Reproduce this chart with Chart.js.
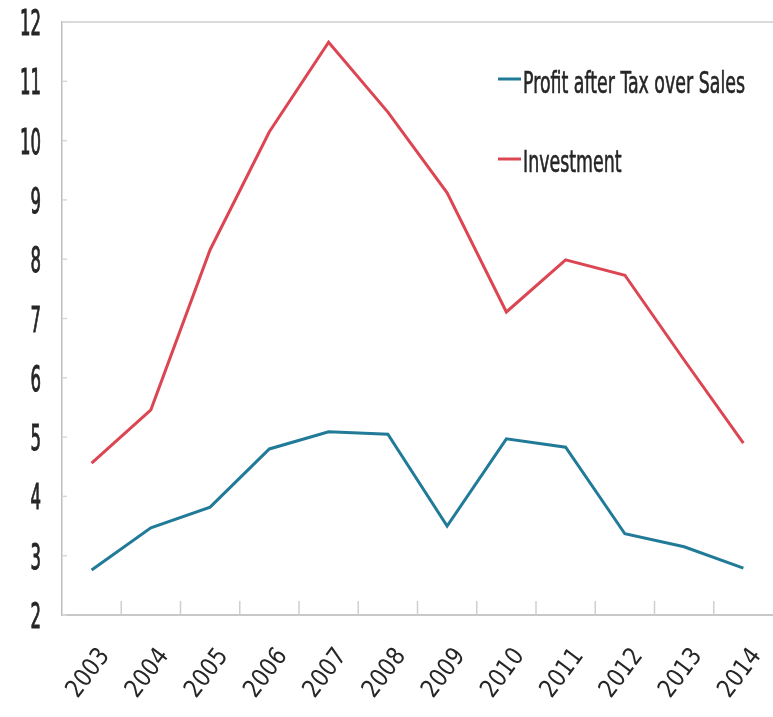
<!DOCTYPE html>
<html>
<head>
<meta charset="utf-8">
<script src="https://cdn.jsdelivr.net/npm/chart.js@4/dist/chart.umd.min.js"></script>
<style>
  body { margin: 0; background: #fff; }
  #wrap { width: 773px; height: 717px; position: relative; }
</style>
</head>
<body>
<div id="wrap"><canvas id="chart"></canvas></div>
<script>
// Daten
const years = ['2003', '2004', '2005', '2006', '2007', '2008', '2009', '2010', '2011', '2012', '2013', '2014'];
const profitAfterTax = [2.76, 3.47, 3.82, 4.80, 5.09, 5.05, 3.50, 4.97, 4.83, 3.37, 3.15, 2.79];
const investment = [4.56, 5.46, 8.16, 10.15, 11.66, 10.48, 9.12, 7.11, 7.99, 7.73, 6.30, 4.90];
const yTicks = [2, 3, 4, 5, 6, 7, 8, 9, 10, 11, 12];

const fontFamily = "'DejaVu Sans Condensed', 'DejaVu Sans', sans-serif";
const textColor = '#262626';

// schmale, hohe Schrift wie im Original: Text horizontal stauchen
function narrowText(ctx, text, x, y, sx, weight) {
    ctx.save();
    ctx.translate(x, y);
    ctx.scale(sx, 1);
    ctx.fillText(text, 0, 0);
    if (weight) {
        ctx.lineWidth = weight;
        ctx.strokeStyle = ctx.fillStyle;
        ctx.strokeText(text, 0, 0);
    }
    ctx.restore();
}

// Achsenbeschriftung, kleine Striche, Rahmen oben und Legende im Plot
const decorations = {
    id: 'decorations',
    afterDraw(chart) {
        const ctx = chart.ctx;
        const area = chart.chartArea;
        const x = chart.scales.x;
        const y = chart.scales.y;
        ctx.save();

        // Rahmen oben
        ctx.strokeStyle = '#dadada';
        ctx.lineWidth = 2;
        ctx.beginPath();
        ctx.moveTo(area.left, area.top);
        ctx.lineTo(area.right, area.top);
        ctx.stroke();

        // Striche zwischen den Kategorien
        ctx.strokeStyle = '#cfcfcf';
        ctx.lineWidth = 1.5;
        for (let i = 1; i < years.length; i++) {
            const px = (x.getPixelForValue(i - 1) + x.getPixelForValue(i)) / 2;
            ctx.beginPath();
            ctx.moveTo(px, area.bottom);
            ctx.lineTo(px, area.bottom - 14);
            ctx.stroke();
        }

        // Striche an der y-Achse
        ctx.strokeStyle = '#d8d8d8';
        yTicks.forEach(v => {
            const py = y.getPixelForValue(v);
            ctx.beginPath();
            ctx.moveTo(area.left, py);
            ctx.lineTo(area.left + 5, py);
            ctx.stroke();
        });

        ctx.fillStyle = textColor;
        ctx.textBaseline = 'alphabetic';

        // y-Beschriftung
        ctx.font = '36px ' + fontFamily;
        ctx.textAlign = 'right';
        const sy = 10.5 / ctx.measureText('0').width;
        yTicks.forEach(v => {
            narrowText(ctx, String(v), area.left - 21, y.getPixelForValue(v) + 13, sy, 1.0);
        });

        // x-Beschriftung, schräg
        ctx.font = '25px ' + fontFamily;
        const sxX = 54 / ctx.measureText('2003').width;
        const angle = -53 * Math.PI / 180;
        years.forEach((label, i) => {
            ctx.save();
            ctx.translate(x.getPixelForValue(i) + 4, area.bottom + 30);
            ctx.rotate(angle);
            ctx.scale(sxX, 1);
            ctx.textAlign = 'right';
            ctx.fillText(label, 0, 18);
            ctx.restore();
        });

        // Legende
        ctx.font = '30px ' + fontFamily;
        ctx.textAlign = 'left';
        const sl = 222 / ctx.measureText(chart.data.datasets[0].label).width;
        const rows = [{ base: 93, mark: 79 }, { base: 172, mark: 159 }];
        chart.data.datasets.forEach((ds, i) => {
            ctx.strokeStyle = ds.borderColor;
            ctx.lineWidth = 3;
            ctx.beginPath();
            ctx.moveTo(498, rows[i].mark);
            ctx.lineTo(521, rows[i].mark);
            ctx.stroke();
            ctx.fillStyle = textColor;
            narrowText(ctx, ds.label, 523, rows[i].base, sl, 0.6);
        });
        ctx.restore();
    }
};

new Chart(document.getElementById('chart'), {
    type: 'line',
    data: {
        labels: years,
        datasets: [{
            label: 'Profit after Tax over Sales',
            data: profitAfterTax,
            borderColor: '#217b98',
            borderWidth: 3,
            pointRadius: 0,
            tension: 0
        }, {
            label: 'Investment',
            data: investment,
            borderColor: '#dc4653',
            borderWidth: 3,
            pointRadius: 0,
            tension: 0
        }]
    },
    options: {
        responsive: true,
        maintainAspectRatio: false,
        animation: false,
        layout: { padding: { top: 22, right: 0, left: 0, bottom: 0 } },
        plugins: {
            legend: { display: false },
            tooltip: { enabled: false }
        },
        scales: {
            x: {
                offset: true,
                grid: { display: false, offset: true },
                border: { display: true, color: '#c8c8c8', width: 2 },
                ticks: { display: false },
                afterFit(scale) { scale.height = 102; }
            },
            y: {
                min: 2,
                max: 12,
                grid: { display: false },
                border: { display: true, color: '#bdbdbd', width: 1.5 },
                ticks: { display: false, stepSize: 1 },
                afterFit(scale) { scale.width = 62; }
            }
        }
    },
    plugins: [decorations]
});
</script>
</body>
</html>
